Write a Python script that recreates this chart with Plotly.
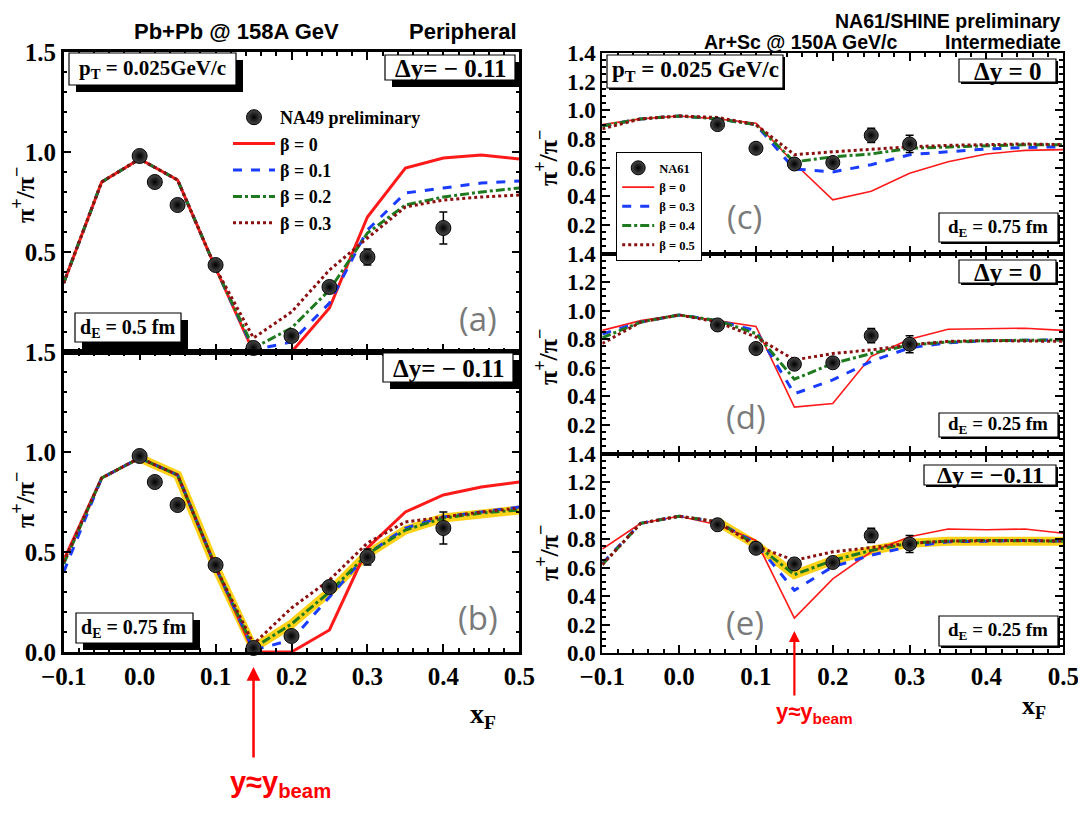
import plotly.graph_objects as go

# page has an 8px body margin: the figure is drawn 8px right / down
OFF = 8
W, H = 1086 - OFF, 814 - OFF

# ---------------- data ----------------
xm = [-0.1, -0.05, 0.0, 0.05, 0.1, 0.15, 0.2, 0.25, 0.3, 0.35, 0.4, 0.45, 0.5]

# Pb+Pb panel (a), d_E = 0.5 fm
a_b00 = [0.345, 0.85, 0.965, 0.86, 0.42, 0.0, 0.0, 0.22, 0.675, 0.92, 0.97, 0.985, 0.965]
a_b01 = [0.345, 0.85, 0.965, 0.86, 0.42, 0.01, 0.05, 0.245, 0.61, 0.795, 0.82, 0.845, 0.855]
a_b02 = [0.345, 0.85, 0.965, 0.86, 0.42, 0.02, 0.12, 0.31, 0.595, 0.735, 0.775, 0.80, 0.82]
a_b03 = [0.345, 0.85, 0.965, 0.86, 0.42, 0.07, 0.20, 0.41, 0.57, 0.725, 0.76, 0.775, 0.785]

# Pb+Pb panel (b), d_E = 0.75 fm
b_b00 = [0.46, 0.87, 0.97, 0.885, 0.425, 0.0, 0.0, 0.11, 0.52, 0.70, 0.785, 0.825, 0.85]
b_b01 = [0.40, 0.87, 0.97, 0.885, 0.425, 0.01, 0.06, 0.275, 0.49, 0.62, 0.675, 0.70, 0.725]
b_b02 = [0.44, 0.87, 0.97, 0.885, 0.425, 0.02, 0.14, 0.30, 0.49, 0.61, 0.67, 0.695, 0.71]
b_b03 = [0.45, 0.87, 0.97, 0.885, 0.425, 0.04, 0.22, 0.36, 0.545, 0.65, 0.675, 0.70, 0.72]

# Ar+Sc panel (c), d_E = 0.75 fm
c_b00 = [0.90, 0.94, 0.96, 0.94, 0.91, 0.63, 0.375, 0.435, 0.56, 0.64, 0.695, 0.72, 0.725]
c_b03 = [0.89, 0.94, 0.96, 0.94, 0.90, 0.59, 0.57, 0.62, 0.69, 0.71, 0.73, 0.74, 0.745]
c_b04 = [0.89, 0.94, 0.96, 0.94, 0.90, 0.64, 0.675, 0.695, 0.735, 0.745, 0.755, 0.76, 0.76]
c_b05 = [0.87, 0.94, 0.96, 0.95, 0.90, 0.69, 0.71, 0.73, 0.745, 0.755, 0.76, 0.765, 0.76]

# Ar+Sc panel (d), d_E = 0.25 fm, dy = 0
d_b00 = [0.862, 0.93, 0.97, 0.93, 0.89, 0.325, 0.35, 0.68, 0.80, 0.87, 0.875, 0.877, 0.862]
d_b03 = [0.836, 0.92, 0.97, 0.93, 0.86, 0.418, 0.515, 0.645, 0.74, 0.775, 0.79, 0.795, 0.795]
d_b04 = [0.81, 0.92, 0.97, 0.93, 0.84, 0.52, 0.63, 0.70, 0.76, 0.78, 0.79, 0.795, 0.795]
d_b05 = [0.77, 0.92, 0.97, 0.92, 0.815, 0.655, 0.70, 0.725, 0.76, 0.785, 0.79, 0.79, 0.785]

# Ar+Sc panel (e), d_E = 0.25 fm, dy = -0.11
e_b00 = [0.73, 0.91, 0.96, 0.90, 0.79, 0.245, 0.52, 0.71, 0.816, 0.87, 0.865, 0.87, 0.84]
e_b03 = [0.63, 0.91, 0.96, 0.92, 0.77, 0.44, 0.605, 0.687, 0.746, 0.78, 0.785, 0.79, 0.785]
e_b04 = [0.62, 0.91, 0.96, 0.92, 0.76, 0.55, 0.65, 0.72, 0.77, 0.785, 0.79, 0.79, 0.785]
e_b05 = [0.62, 0.91, 0.96, 0.92, 0.75, 0.65, 0.71, 0.74, 0.77, 0.785, 0.79, 0.79, 0.785]

# measurements
na49_x = [0.0, 0.02, 0.05, 0.1, 0.15, 0.2, 0.25, 0.3, 0.4]
na49_y = [0.98, 0.85, 0.735, 0.435, 0.02, 0.08, 0.325, 0.475, 0.62]
na49_err = [0.01, 0.01, 0.01, 0.01, 0.01, 0.01, 0.015, 0.04, 0.08]

na61_x = [0.05, 0.1, 0.15, 0.2, 0.25, 0.3]
na61_y = [0.90, 0.735, 0.625, 0.635, 0.825, 0.765]
na61_err = [0.02, 0.02, 0.02, 0.02, 0.05, 0.06]

left_beta_names = ["β = 0", "β = 0.1", "β = 0.2", "β = 0.3"]
right_beta_names = ["β = 0", "β = 0.3", "β = 0.4", "β = 0.5"]

x_ticks = [-0.1, 0.0, 0.1, 0.2, 0.3, 0.4, 0.5]
x_ticktext = ["−0.1", "0.0", "0.1", "0.2", "0.3", "0.4", "0.5"]
yl_ticks = [0.0, 0.5, 1.0, 1.5]
yr_ticks = [0.0, 0.2, 0.4, 0.6, 0.8, 1.0, 1.2, 1.4]

# ---------------- styling ----------------
RED = "#ff1a1a"
BLUE = "#1a3cff"
GREEN = "#1f7a1f"
BROWN = "#8b1010"
YELLOW = "#ffd21a"
SERIF = "Liberation Serif"
SANS = "Liberation Sans"


def px(x):
    return (x - OFF) / W


def py(y):
    return 1 - (y - OFF) / H


fig = go.Figure()

styles = [
    dict(color=RED, dash="solid"),
    dict(color=BLUE, dash="dash"),
    dict(color=GREEN, dash="dashdot"),
    dict(color=BROWN, dash="dot"),
]

marker_style = dict(color="#4a4a4a", gradient=dict(type="radial", color="black"),
                    line=dict(color="black", width=1))


def add_panel(xa, ya, series, names, band, pts_x, pts_y, pts_err, pts_name,
              legend=None, widths=(3, 3, 3, 3), msize=15):
    if band is not None:
        fig.add_trace(go.Scatter(x=band[0], y=band[1], mode="lines",
                                 line=dict(color=YELLOW, width=9),
                                 xaxis=xa, yaxis=ya, showlegend=False,
                                 hoverinfo="skip"))
    for i, (s, nm) in enumerate(zip(series, names)):
        st = styles[i]
        fig.add_trace(go.Scatter(x=xm, y=s, mode="lines", name=nm,
                                 line=dict(color=st["color"], dash=st["dash"],
                                           width=widths[i]),
                                 xaxis=xa, yaxis=ya,
                                 showlegend=legend is not None,
                                 legend=legend if legend else "legend",
                                 legendrank=2 + i))
    fig.add_trace(go.Scatter(x=pts_x, y=pts_y, mode="markers", name=pts_name,
                             marker=dict(size=msize, **marker_style),
                             error_y=dict(type="data", array=pts_err, color="black",
                                          thickness=1.5, width=4),
                             xaxis=xa, yaxis=ya, cliponaxis=False,
                             showlegend=legend is not None,
                             legend=legend if legend else "legend",
                             legendrank=1))


add_panel("x", "y", [a_b00, a_b01, a_b02, a_b03], left_beta_names, None,
          na49_x, na49_y, na49_err, "NA49 preliminary", legend="legend")
add_panel("x2", "y2", [b_b00, b_b01, b_b02, b_b03], left_beta_names,
          (xm[2:], b_b02[2:]),
          na49_x, na49_y, na49_err, "NA49 preliminary")
add_panel("x3", "y3", [c_b00, c_b03, c_b04, c_b05], right_beta_names, None,
          na61_x, na61_y, na61_err, "NA61", legend="legend2",
          widths=(1.6, 3, 3, 3), msize=14)
add_panel("x4", "y4", [d_b00, d_b03, d_b04, d_b05], right_beta_names, None,
          na61_x, na61_y, na61_err, "NA61", widths=(1.6, 3, 3, 3), msize=14)
add_panel("x5", "y5", [e_b00, e_b03, e_b04, e_b05], right_beta_names,
          (xm[3:], e_b04[3:]),
          na61_x, na61_y, na61_err, "NA61", widths=(1.6, 3, 3, 3), msize=14)

# ---------------- axes ----------------
LX = [px(63.7), px(519.3)]
RX = [px(602.3), px(1063.3)]


def xaxis_cfg(domain, anchor, labels, size, lw):
    return dict(domain=domain, anchor=anchor, range=[-0.1, 0.5], automargin=False,
                tickmode="array", tickvals=x_ticks, ticktext=x_ticktext,
                showticklabels=labels,
                tickfont=dict(family=SERIF, size=size, color="black", weight="bold"),
                ticks="inside", ticklen=8, tickwidth=2, tickcolor="black",
                minor=dict(ticks="inside", ticklen=4, tickwidth=1.5, dtick=0.02,
                           tick0=0, tickcolor="black", showgrid=False),
                showline=True, linecolor="black", linewidth=lw, mirror="allticks",
                showgrid=False, zeroline=False, fixedrange=True)


def yaxis_cfg(domain, anchor, rng, vals, text, dt_minor, size, lw):
    return dict(domain=domain, anchor=anchor, range=rng, automargin=False,
                tickmode="array", tickvals=vals, ticktext=text,
                tickfont=dict(family=SERIF, size=size, color="black", weight="bold"),
                ticks="inside", ticklen=8, tickwidth=2, tickcolor="black",
                minor=dict(ticks="inside", ticklen=4, tickwidth=1.5, dtick=dt_minor,
                           tick0=0, tickcolor="black", showgrid=False),
                showline=True, linecolor="black", linewidth=lw, mirror="allticks",
                showgrid=False, zeroline=False, fixedrange=True)


ya_dom = [py(352), py(52)]
yb_dom = [py(652), py(352)]
yc_dom = [py(253.5), py(53)]
yd_dom = [py(453.5), py(253.5)]
ye_dom = [py(653), py(453.5)]

yl_text_top = ["", "0.5", "1.0", "1.5"]
yl_text_bot = ["0.0", "0.5", "1.0", "1.5"]
yr_text_top = [""] + ["%.1f" % v for v in yr_ticks[1:]]
yr_text_bot = ["%.1f" % v for v in yr_ticks]

fig.update_layout(
    xaxis=xaxis_cfg(LX, "y", False, 25, 2.5),
    yaxis=yaxis_cfg(ya_dom, "x", [0, 1.5], yl_ticks, yl_text_top, 0.1, 25, 2.5),
    xaxis2=xaxis_cfg(LX, "y2", True, 25, 2.5),
    yaxis2=yaxis_cfg(yb_dom, "x2", [0, 1.5], yl_ticks, yl_text_bot, 0.1, 25, 2.5),
    xaxis3=xaxis_cfg(RX, "y3", False, 25, 2),
    yaxis3=yaxis_cfg(yc_dom, "x3", [0, 1.4], yr_ticks, yr_text_top, 0.05, 23, 2),
    xaxis4=xaxis_cfg(RX, "y4", False, 25, 2),
    yaxis4=yaxis_cfg(yd_dom, "x4", [0, 1.4], yr_ticks, yr_text_top, 0.05, 23, 2),
    xaxis5=xaxis_cfg(RX, "y5", True, 25, 2),
    yaxis5=yaxis_cfg(ye_dom, "x5", [0, 1.4], yr_ticks, yr_text_bot, 0.05, 23, 2),
)

# ---------------- boxes (shapes) ----------------
shapes = []


def box(x0, y0, x1, y1, sh):
    shapes.append(dict(type="rect", xref="paper", yref="paper",
                       x0=px(x0 + sh), x1=px(x1 + sh), y0=py(y1 + sh), y1=py(y0 + sh),
                       fillcolor="black", line=dict(width=0), layer="above"))
    shapes.append(dict(type="rect", xref="paper", yref="paper",
                       x0=px(x0), x1=px(x1), y0=py(y1), y1=py(y0),
                       fillcolor="white", line=dict(color="black", width=1.2),
                       layer="above"))


box(69, 53, 236, 85, 7)
box(385, 55, 515, 80, 7)
box(75, 313, 181, 342, 7)
box(383, 353, 513, 382, 7)
box(76, 613, 193, 643, 7)

box(607, 55, 783, 88, 2)
box(959, 59, 1056, 82, 2)
box(939, 213, 1058, 242, 2)
box(959, 260, 1056, 283, 2)
box(939, 413, 1058, 437, 2)
box(924, 465, 1056, 485, 2)
box(939, 616, 1058, 646, 2)

fig.update_layout(shapes=shapes)

# ---------------- annotations ----------------
ann = []


def text(x, y, t, size, family=SERIF, color="black", bold=True, angle=0,
         xanchor="center", yanchor="middle"):
    ann.append(dict(xref="paper", yref="paper", x=px(x), y=py(y), text=t,
                    showarrow=False, xanchor=xanchor, yanchor=yanchor,
                    textangle=angle,
                    font=dict(family=family, size=size, color=color,
                              weight="bold" if bold else "normal")))


# headers
text(236, 32, "Pb+Pb @ 158A GeV", 22, SANS)
text(519, 32, "Peripheral", 22, SANS, xanchor="right")
text(1063, 8, "NA61/SHINE preliminary", 19.5, SANS, xanchor="right", yanchor="top")
text(801, 42.5, "Ar+Sc @ 150A GeV/c", 19.5, SANS)
text(1063, 42.5, "Intermediate", 19.5, SANS, xanchor="right")

# box texts
text(152, 69, "p<sub>T</sub> = 0.025GeV/c", 21)
text(451, 68, "Δy= − 0.11", 25)
text(128, 328, "d<sub>E</sub> = 0.5 fm", 20)
text(449, 368, "Δy= − 0.11", 25)
text(134, 628, "d<sub>E</sub> = 0.75 fm", 20)

text(695, 71, "p<sub>T</sub> = 0.025 GeV/c", 23)
text(1007, 71, "Δy = 0", 25)
text(998, 228, "d<sub>E</sub> = 0.75 fm", 19)
text(1007, 272, "Δy = 0", 25)
text(998, 425, "d<sub>E</sub> = 0.25 fm", 19)
text(990, 475, "Δy = −0.11", 24)
text(998, 631, "d<sub>E</sub> = 0.25 fm", 19)

# panel labels
for (x, y, t) in [(478, 318, "(a)"), (478, 617, "(b)"), (744, 216, "(c)"),
                  (746, 416, "(d)"), (745, 622, "(e)")]:
    text(x, y, t, 33, "Open Sans", "#7a7a7a", bold=False)

# y-axis titles
for (x, y) in [(23, 195), (23, 500), (547, 158), (547, 357), (547, 553)]:
    text(x, y, "π<sup>+</sup>/π<sup>−</sup>", 26, angle=-90)

# x-axis titles
text(483, 715, "x<sub>F</sub>", 28)
text(1034, 707, "x<sub>F</sub>", 26)

# beam rapidity arrows
ann.append(dict(xref="x2", yref="paper", x=0.15, y=py(667), ax=0, ay=92,
                text="", showarrow=True, arrowhead=2, arrowsize=1.1,
                arrowwidth=2.5, arrowcolor="#ff0000"))
text(280, 784, "y≈y<sub>beam</sub>", 29, SANS, "#ff0000")
ann.append(dict(xref="x5", yref="paper", x=0.15, y=py(631), ax=0, ay=66,
                text="", showarrow=True, arrowhead=2, arrowsize=1.0,
                arrowwidth=2.2, arrowcolor="#ff0000"))
text(814, 713, "y≈y<sub>beam</sub>", 22, SANS, "#ff0000")

fig.update_layout(annotations=ann)

# ---------------- legends ----------------
fig.update_layout(
    legend=dict(x=px(228), y=py(99), xanchor="left", yanchor="top",
                bgcolor="rgba(0,0,0,0)", borderwidth=0, itemwidth=42,
                font=dict(family=SERIF, size=18, color="black", weight="bold"),
                tracegroupgap=0, itemclick=False, itemdoubleclick=False),
    legend2=dict(x=px(616), y=py(152), xanchor="left", yanchor="top",
                 bgcolor="white", bordercolor="black", borderwidth=1.2,
                 itemwidth=32,
                 font=dict(family=SERIF, size=12.5, color="black", weight="bold"),
                 tracegroupgap=0, itemclick=False, itemdoubleclick=False),
)

fig.update_layout(width=W, height=H, margin=dict(l=0, r=0, t=0, b=0, pad=0),
                  paper_bgcolor="white", plot_bgcolor="white",
                  showlegend=True, hovermode=False)

fig.write_html("out.html")
